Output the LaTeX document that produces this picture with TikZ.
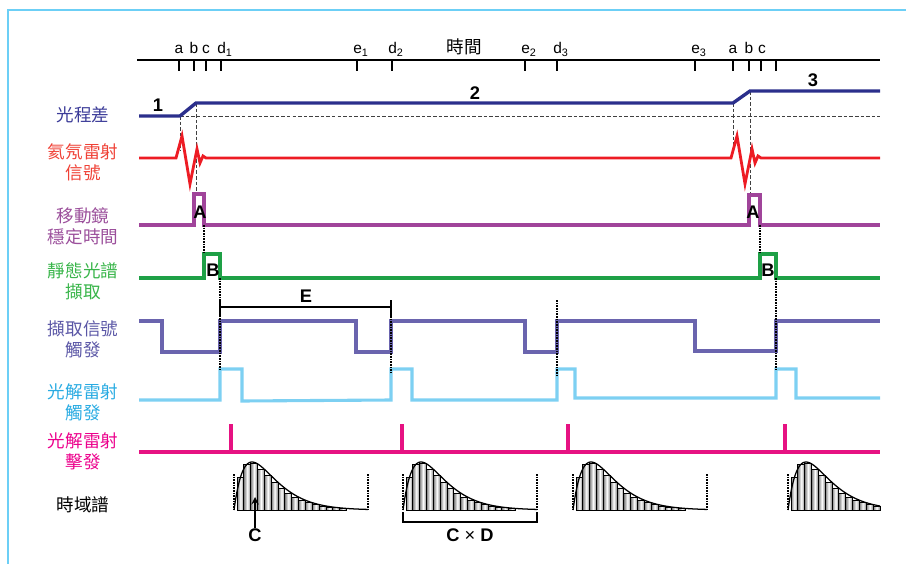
\documentclass[tikz,border=0pt]{standalone}
\usepackage{fontspec}
\setmainfont{Liberation Sans}
\newfontfamily\cjk{Noto Sans CJK TC}
\usetikzlibrary{positioning}
\definecolor{frame_cyan}{RGB}{108, 207, 246}
\definecolor{opd_blue}{RGB}{43, 47, 140}
\definecolor{hene_red}{RGB}{237, 28, 36}
\definecolor{mirror_purple}{RGB}{160, 68, 154}
\definecolor{static_green}{RGB}{30, 160, 70}
\definecolor{trig_slate}{RGB}{106, 100, 174}
\definecolor{photo_cyan}{RGB}{125, 208, 242}
\definecolor{fire_magenta}{RGB}{230, 18, 130}
\definecolor{lab_blue}{RGB}{59, 59, 152}
\definecolor{lab_red}{RGB}{239, 65, 54}
\definecolor{lab_purple}{RGB}{155, 79, 155}
\definecolor{lab_green}{RGB}{57, 181, 74}
\definecolor{lab_slate}{RGB}{91, 87, 166}
\definecolor{lab_cyan}{RGB}{41, 171, 226}
\definecolor{lab_magenta}{RGB}{236, 0, 140}
\tikzstyle{lab}=[font=\cjk\fontsize{12.5}{15}\selectfont,align=center,inner sep=0pt]
\tikzstyle{tlab}=[font=\fontsize{11}{12}\selectfont,anchor=base,inner sep=0pt]
\tikzstyle{letter}=[font=\bfseries\fontsize{13}{14}\selectfont,inner sep=0pt]
\tikzstyle{sig}=[line width=2.2pt,line join=miter]
\tikzstyle{guide}=[black,line width=1.6pt,dash pattern=on 1.1pt off 0.8pt]
\tikzstyle{thindash}=[black!75,line width=0.7pt,dash pattern=on 2.5pt off 1.5pt]
\tikzstyle{brk}=[black,line width=1.1pt]

% time-domain spectrum: #1 = left x, #2 = number of bars, #3 = curve length
\newcommand{\tdspec}[3]{
  \foreach \i in {1,...,#2}{
    \pgfmathsetmacro{\xa}{#1+3+(\i-1)*6.85}
    \pgfmathsetmacro{\xc}{\xa+3.4-#1}
    \pgfmathsetmacro{\xb}{\xa+6.85-#1}
    \pgfmathsetmacro{\hh}{min(48*(\xc/18)*exp(1-\xc/18),48*(\xb/18)*exp(1-\xb/18))}
    \shade[left color=black!50,right color=black!50,middle color=white]
      (\xa,510) rectangle ++(6.85,-\hh);
    \draw[line width=0.7pt] (\xa,510) rectangle ++(6.85,-\hh);
  }
  \draw[line width=0.9pt] plot[domain=0:#3,samples=80,smooth]
    ({#1+\x},{510-48*(\x/18)*exp(1-\x/18)});
  \draw[guide] (#1,474) -- (#1,509);
}

\begin{document}
\begin{tikzpicture}[x=0.025cm,y=-0.025cm]
  \useasboundingbox (0,0) rectangle (906,564);
  \draw[frame_cyan,line width=1.2pt] (8,564) -- (8,10) -- (906,10);

  % time axis
  \draw[line width=1.1pt] (137,60) -- (880,60);
  \foreach \t in {179,194,206,221,357,392,525,557,695,733,749,761,776}
    \draw[line width=1.1pt] (\t,60) -- (\t,71);
  \node[tlab] (ta1) at (179,54) {a};
  \node[tlab] (tb1) at (194,54) {b};
  \node[tlab] (tc1) at (206,54) {c};
  \node[tlab] (td1) at (225,54) {d\textsubscript{1}};
  \node[tlab] (te1) at (361,54) {e\textsubscript{1}};
  \node[tlab] (td2) at (396,54) {d\textsubscript{2}};
  \node[lab] (time) at (464,47) {時間};
  \node[tlab] (te2) at (529,54) {e\textsubscript{2}};
  \node[tlab] (td3) at (561,54) {d\textsubscript{3}};
  \node[tlab] (te3) at (699,54) {e\textsubscript{3}};
  \node[tlab] (ta2) at (733,54) {a};
  \node[tlab] (tb2) at (749,54) {b};
  \node[tlab] (tc2) at (762,54) {c};

  % row labels
  \node[lab,lab_blue] (lopd) at (83,115) {光程差};
  \node[lab,lab_red] (lhene) at (83,162) {氦氖雷射\\信號};
  \node[lab,lab_purple] (lmirror) at (83,226) {移動鏡\\穩定時間};
  \node[lab,lab_green] (lstatic) at (83,281) {靜態光譜\\擷取};
  \node[lab,lab_slate] (ltrig) at (83,339) {擷取信號\\觸發};
  \node[lab,lab_cyan] (lphoto) at (83,402) {光解雷射\\觸發};
  \node[lab,lab_magenta] (lfire) at (83,451) {光解雷射\\擊發};
  \node[lab] (lspec) at (83,505) {時域譜};

  % optical path difference
  \draw[thindash] (180,116) -- (880,116);
  \draw[thindash] (180,116) -- (180,150);
  \draw[thindash] (196,103) -- (196,194);
  \draw[thindash] (733,103) -- (733,150);
  \draw[thindash] (750,91) -- (750,194);
  \draw[sig,opd_blue,line width=2.4pt] (139,116) -- (180,116) -- (196,103)
    -- (733,103) -- (750,91) -- (880,91);
  \node[letter] (n1) at (158,105) {1};
  \node[letter] (n2) at (475,93) {2};
  \node[letter] (n3) at (813,80) {3};

  % He-Ne fringe signal
  \draw[sig,hene_red,line width=2pt] (139,158) -- (176,158) -- (182,136)
    -- (190,184) -- (197,149) -- (200,163) -- (203,156) -- (206,158)
    -- (731,158) -- (737,136) -- (745,184) -- (752,149) -- (755,163)
    -- (758,156) -- (761,158) -- (880,158);

  % mirror settling
  \draw[sig,mirror_purple] (139,225) -- (194,225) -- (194,194) -- (204,194)
    -- (204,225) -- (749,225) -- (749,195) -- (760,195) -- (760,225) -- (880,225);
  \node[letter] (pa1) at (200,212) {A};
  \node[letter] (pa2) at (753,212) {A};

  % static spectrum
  \draw[sig,static_green] (139,278) -- (204,278) -- (204,254) -- (220,254)
    -- (220,278) -- (760,278) -- (760,254) -- (776,254) -- (776,278) -- (880,278);
  \node[letter] (pb1) at (213,270) {B};
  \node[letter] (pb2) at (768,270) {B};

  % acquisition trigger
  \draw[sig,trig_slate] (139,321) -- (162,321) -- (162,352) -- (220,352)
    -- (220,321) -- (356,321) -- (356,352) -- (391,352) -- (391,321)
    -- (525,321) -- (525,352) -- (557,352) -- (557,321) -- (695,321)
    -- (695,351) -- (776,351) -- (776,321) -- (880,321);

  % photolysis trigger
  \draw[sig,photo_cyan] (139,400) -- (220,400) -- (220,369) -- (242,369)
    -- (242,401) -- (391,400) -- (391,369) -- (412,369) -- (412,400)
    -- (557,400) -- (557,369) -- (575,369) -- (575,398) -- (776,398)
    -- (776,369) -- (796,369) -- (796,398) -- (880,398);

  % photolysis firing
  \draw[sig,fire_magenta] (139,452) -- (880,452);
  \foreach \s in {231,402,568,785}
    \draw[sig,fire_magenta] (\s,452) -- (\s,424);

  % timing guides
  \draw[guide] (204,225) -- (204,254);
  \draw[guide] (220,278) -- (220,369);
  \draw[guide] (391,300) -- (391,373);
  \draw[guide] (557,300) -- (557,375);
  \draw[guide] (760,225) -- (760,254);
  \draw[guide] (776,278) -- (776,369);

  % E bracket
  \coordinate (es) at (220,307);
  \coordinate (ee) at (391,307);
  \draw[brk] (es) -- (ee);
  \draw[brk] (220,301) -- (220,316);
  \draw[brk] (391,300) -- (391,316);
  \node[letter] (le) at (306,296) {E};

  % time-domain spectra
  \tdspec{234}{16}{134}
  \tdspec{403}{16}{134}
  \tdspec{573}{16}{134}
  \tdspec{788}{13}{92}
  \draw[guide] (368,474) -- (368,509);
  \draw[guide] (537,474) -- (537,509);
  \draw[guide] (707,474) -- (707,509);

  % C and C x D
  \node[letter] (lc) at (255,535) {C};
  \coordinate (cbar) at (255,497);
  \draw[-stealth,line width=1.3pt] (lc) -- (cbar);
  \draw[brk] (403,512) -- (403,522) -- (537,522) -- (537,512);
  \node[letter] (lcd) at (470,535) {C {\mdseries ×} D};
\end{tikzpicture}
\end{document}
